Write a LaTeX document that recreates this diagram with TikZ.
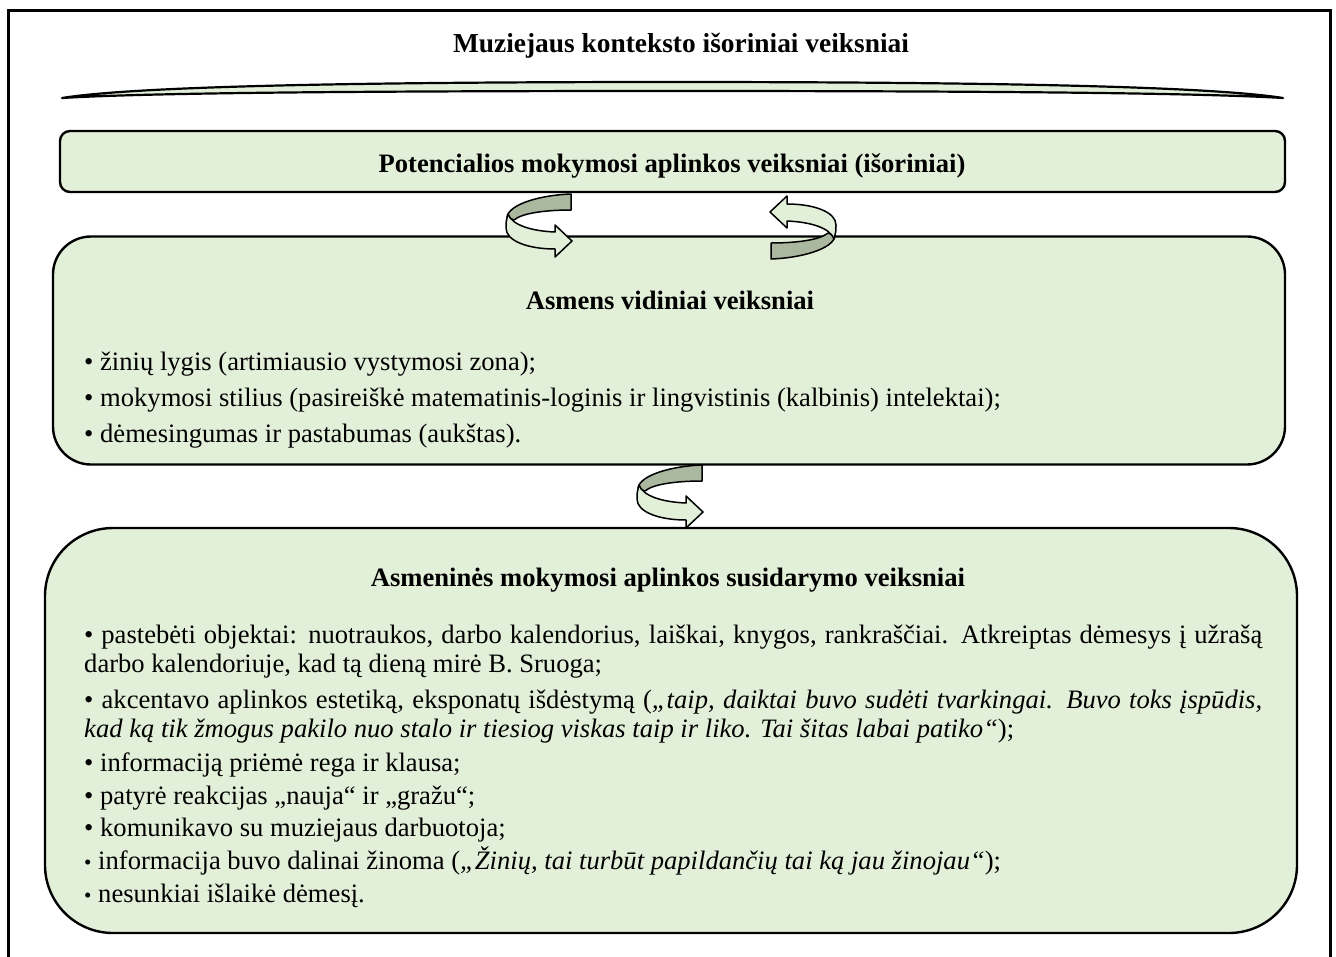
\documentclass[tikz,border=0pt]{standalone}
\usepackage{fontspec}
\setmainfont{Liberation Serif}
\definecolor{paleg}{RGB}{226,239,217}
\definecolor{rearg}{RGB}{170,184,160}
\newcommand\smallbul{{\fontsize{21}{21}\selectfont •}}
\begin{document}
\begin{tikzpicture}[x=1pt,y=-1pt,
  panel/.style={draw=black, line width=2.4pt, fill=paleg},
  head/.style={font=\fontsize{26.6}{30}\selectfont\bfseries, inner sep=0pt, anchor=base},
  body/.style={font=\fontsize{26.6}{30}\selectfont, inner sep=0pt, anchor=base west},
  swirl/.pic={
    \filldraw[fill=rearg, draw=black, line width=1.5pt, line join=round]
      (65,0) -- (65,16) .. controls (40,16) and (16,19) .. (8,26) -- (1,23)
      .. controls (3,10) and (35,1) .. (65,0) -- cycle;
    \filldraw[fill=paleg, draw=black, line width=1.5pt, line join=round]
      (2,20) .. controls (6,31) and (25,37) .. (49,38) -- (49,31) -- (66,47)
      -- (49,63) -- (49,55) .. controls (22,55) and (0,47) .. (0,34)
      .. controls (0,28) .. (2,20) -- cycle;
  }]
\useasboundingbox (0,0) rectangle (1336,956);
\fill[white] (0,0) rectangle (1336,956);
\begin{scope}
\clip (0,0) rectangle (1336,956);
\draw[line width=3pt] (8,10) rectangle (1330,1000);
\end{scope}

% heading and the curved band beneath it
\node[head, font=\fontsize{27.4}{30}\selectfont\bfseries] (ctx) at (681,52) {Muziejaus konteksto išoriniai veiksniai};
\filldraw[fill=paleg, draw=black, line width=2.2pt, line join=round]
  (62,98) .. controls (130,87) and (330,82) .. (672,82)
  .. controls (1014,82) and (1214,87) .. (1283,98)
  .. controls (1200,93) and (1000,91) .. (672,91)
  .. controls (344,91) and (145,93) .. (62,98) -- cycle;

% the three panels
\node[panel, rounded corners=10pt, minimum width=1225pt, minimum height=61pt] (pot) at (672.5,161.5) {};
\node[head] (potT) at (672,172) {Potencialios mokymosi aplinkos veiksniai (išoriniai)};

\node[panel, rounded corners=38pt, minimum width=1232pt, minimum height=228pt] (vid) at (669,350.5) {};
\node[head] (vidT) at (670,309) {Asmens vidiniai veiksniai};
\node[body] (v1) at (84,370) {• žinių lygis (artimiausio vystymosi zona);};
\node[body] (v2) at (84,406) {• mokymosi stilius (pasireiškė matematinis-loginis ir lingvistinis (kalbinis) intelektai);};
\node[body] (v3) at (84,442) {• dėmesingumas ir pastabumas (aukštas).};

\node[panel, rounded corners=68pt, minimum width=1252pt, minimum height=405pt] (asm) at (671,730.5) {};
\node[head] (asmT) at (668,586) {Asmeninės mokymosi aplinkos susidarymo veiksniai};
\node[body] (a1) at (84,643) {\makebox[1178pt][s]{• pastebėti objektai: nuotraukos, darbo kalendorius, laiškai, knygos, rankraščiai. Atkreiptas dėmesys į užrašą}};
\node[body] (a2) at (84,672) {darbo kalendoriuje, kad tą dieną mirė B. Sruoga;};
\node[body] (a3) at (84,708) {\makebox[1178pt][s]{• akcentavo aplinkos estetiką, eksponatų išdėstymą (\textit{„taip, daiktai buvo sudėti tvarkingai. Buvo toks įspūdis,}}};
\node[body] (a4) at (84,737) {\textit{kad ką tik žmogus pakilo nuo stalo ir tiesiog viskas taip ir liko. Tai šitas labai patiko“});};
\node[body] (a5) at (84,771) {• informaciją priėmė rega ir klausa;};
\node[body] (a6) at (84,804) {• patyrė reakcijas „nauja“ ir „gražu“;};
\node[body] (a7) at (84,836) {• komunikavo su muziejaus darbuotoja;};
\node[body] (a8) at (84,869) {\smallbul\ informacija buvo dalinai žinoma (\textit{„Žinių, tai turbūt papildančių tai ką jau žinojau“});};
\node[body] (a9) at (84,902) {\smallbul\ nesunkiai išlaikė dėmesį.};

% curved exchange arrows between the panels
\pic at (506,194) {swirl};
\pic[rotate=180] at (836,259) {swirl};
\pic at (637,465) {swirl};
\end{tikzpicture}
\end{document}
